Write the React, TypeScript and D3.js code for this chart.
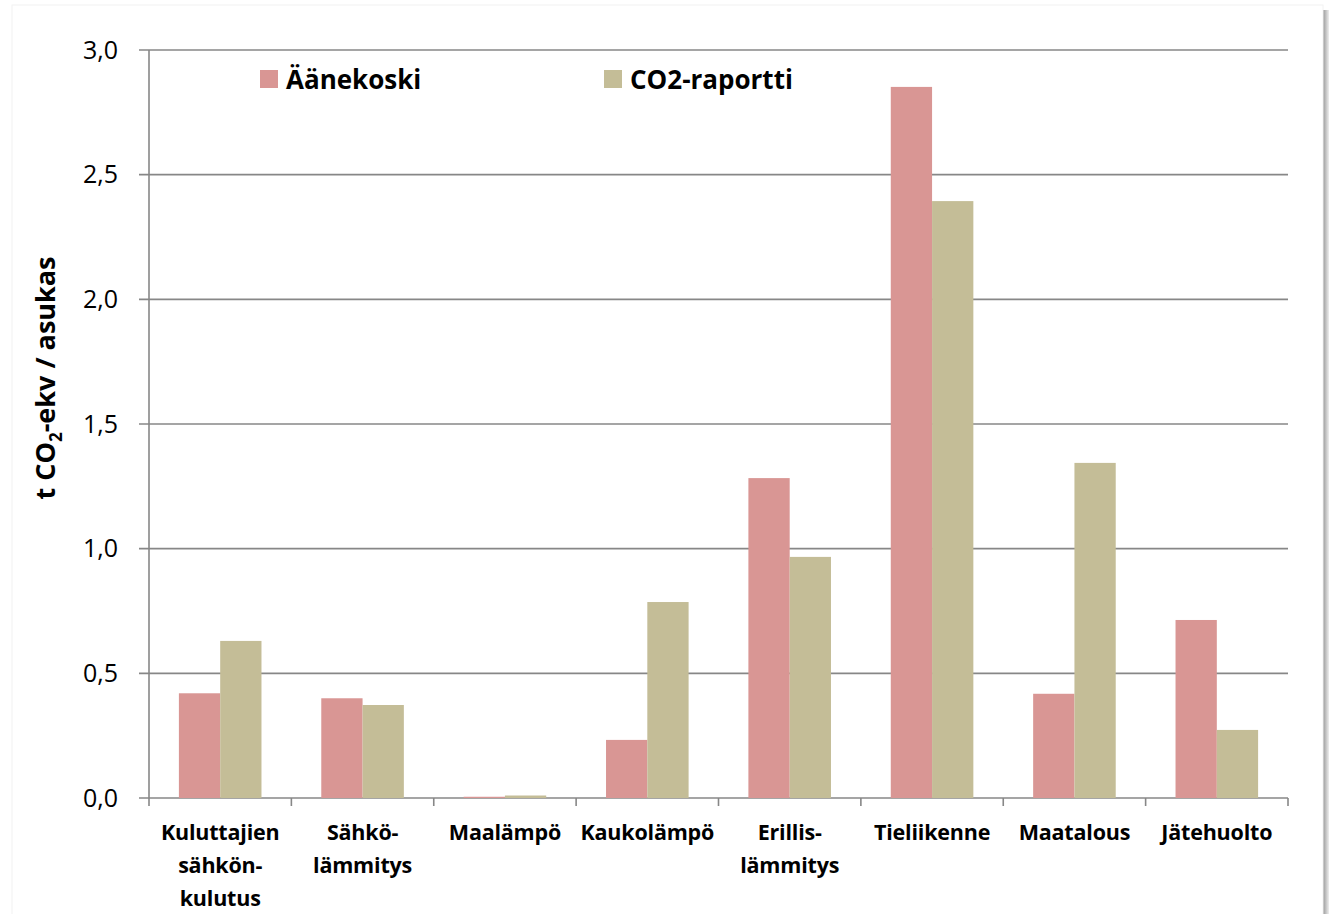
import React from "react";
import * as d3 from "d3";

const categories: string[][] = [
  ["Kuluttajien", "sähkön-", "kulutus"],
  ["Sähkö-", "lämmitys"],
  ["Maalämpö"],
  ["Kaukolämpö"],
  ["Erillis-", "lämmitys"],
  ["Tieliikenne"],
  ["Maatalous"],
  ["Jätehuolto"],
];
const seriesNames = ["Äänekoski", "CO2-raportti"];
const aanekoski = [0.42, 0.4, 0.005, 0.233, 1.283, 2.852, 0.418, 0.714];
const co2raportti = [0.63, 0.373, 0.01, 0.786, 0.967, 2.394, 1.344, 0.273];
const yTicks = [0, 0.5, 1.0, 1.5, 2.0, 2.5, 3.0];
const colors = ["#D99694", "#C4BD97"];

export default function App() {
  const W = 1329, H = 914;
  const left = 149, right = 1288, top = 50, bottom = 798;
  const x0 = d3.scaleBand<number>().domain(d3.range(categories.length)).range([left, right]).paddingInner(0).paddingOuter(0);
  const y = d3.scaleLinear().domain([0, 3]).range([bottom, top]);
  const bw = x0.bandwidth();
  const gap = bw * 0.21;
  const barW = (bw - 2 * gap) / 2;
  const series = [aanekoski, co2raportti];
  const font = "'Open Sans', sans-serif";
  const grid = "#878787";
  return (
    <svg width={W} height={H} style={{ position: "absolute", left: 0, top: 0, background: "#fff" }} fontFamily={font}>
      <defs>
        <linearGradient id="sh" x1="0" x2="1">
          <stop offset="0" stopColor="#999" />
          <stop offset="1" stopColor="#eee" />
        </linearGradient>
      </defs>
      <rect x={1323} y={10} width={6} height={H - 10} fill="url(#sh)" />
      <rect x={12} y={5} width={1311} height={H} fill="#fff" stroke="#f2f2f2" />
      {yTicks.map((t) => (
        <g key={t}>
          <line x1={left - 10} x2={right} y1={y(t)} y2={y(t)} stroke={grid} strokeWidth={1.6} />
          <text x={118} y={y(t)} dy="0.35em" textAnchor="end" fontSize={25} fill="#000">
            {d3.format(".1f")(t).replace(".", ",")}
          </text>
        </g>
      ))}
      <line x1={left} x2={left} y1={top} y2={bottom} stroke={grid} strokeWidth={1.6} />
      {d3.range(categories.length + 1).map((i) => {
        const xx = left + i * bw;
        return <line key={i} x1={xx} x2={xx} y1={bottom} y2={bottom + 8} stroke={grid} strokeWidth={1.6} />;
      })}
      {categories.map((c, i) =>
        series.map((s, j) => {
          const xs = (x0(i) as number) + gap + j * barW;
          return (
            <rect key={`${i}-${j}`} x={xs} y={y(s[i])} width={barW} height={bottom - y(s[i])} fill={colors[j]} />
          );
        })
      )}
      {categories.map((c, i) => (
        <text key={i} textAnchor="middle" fontSize={21.5} fontWeight="bold" fill="#000" letterSpacing={-0.2}>
          {c.map((line, k) => (
            <tspan key={k} x={(x0(i) as number) + bw / 2} y={840 + k * 33}>
              {line}
            </tspan>
          ))}
        </text>
      ))}
      <text transform={`translate(55,378) rotate(-90)`} textAnchor="middle" fontSize={27} fontWeight="bold" fill="#000">
        t CO<tspan fontSize={17} dy={7}>2</tspan>
        <tspan dy={-7}>-ekv / asukas</tspan>
      </text>
      {seriesNames.map((n, j) => {
        const lx = j === 0 ? 260 : 604;
        return (
          <g key={n}>
            <rect x={lx} y={70} width={18} height={18} fill={colors[j]} />
            <text x={lx + 26} y={89} fontSize={26} fontWeight="bold" fill="#000">
              {n}
            </text>
          </g>
        );
      })}
    </svg>
  );
}
